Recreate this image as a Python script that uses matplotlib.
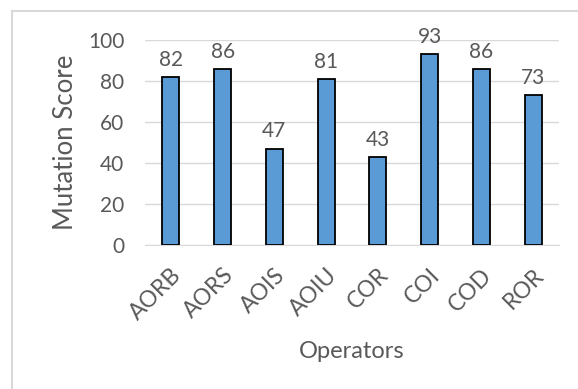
import numpy as np
import matplotlib.pyplot as plt
from matplotlib.patches import Rectangle
from matplotlib.transforms import ScaledTranslation

operators = ['AORB', 'AORS', 'AOIS', 'AOIU', 'COR', 'COI', 'COD', 'ROR']
scores = [82, 86, 47, 81, 43, 93, 86, 73]
yticks = [0, 20, 40, 60, 80, 100]

txt = '#595959'
plt.rcParams['font.family'] = ['Lato', 'DejaVu Sans']

fig = plt.figure(figsize=(5.78, 3.89), dpi=100)
ax = fig.add_axes([145 / 578, 1 - 245 / 389, 414 / 578, 205 / 389])

x = np.arange(len(operators))
ax.bar(x, scores, width=0.33, color='#5B9BD5', edgecolor='black', linewidth=1.3, zorder=3)
for xi, v in zip(x, scores):
    ax.text(xi, v + 3.5, str(v), ha='center', va='bottom', fontsize=15, color=txt)

ax.set_xlim(-0.5, len(operators) - 0.5)
ax.set_ylim(0, 100)
ax.set_yticks(yticks)
ax.yaxis.grid(True, color='#D9D9D9', linewidth=1, zorder=0)
ax.set_xticks(x)
ax.set_xticklabels(operators, rotation=45, ha='right', rotation_mode='anchor')
# nudge rotated labels a little to the right, like excel does
shift = ScaledTranslation(4 / 72, 0, fig.dpi_scale_trans)
for lbl in ax.get_xticklabels():
    lbl.set_transform(lbl.get_transform() + shift)
ax.tick_params(axis='y', length=0, labelsize=15, labelcolor=txt, pad=15)
ax.tick_params(axis='x', length=0, labelsize=16.5, labelcolor=txt, pad=14)
for s in ['top', 'right', 'left']:
    ax.spines[s].set_visible(False)
ax.spines['bottom'].set_color('#D9D9D9')
ax.set_ylabel('Mutation Score', fontsize=18.5, color=txt, labelpad=7)
ax.set_xlabel('Operators', fontsize=17, color=txt, labelpad=12)

fig.patches.append(Rectangle((11.5 / 578, -0.1), 1.2, 1.1 - 11 / 389, transform=fig.transFigure,
                             fill=False, edgecolor='#D9D9D9', linewidth=1.5))

fig.savefig('out.png', dpi=100)
